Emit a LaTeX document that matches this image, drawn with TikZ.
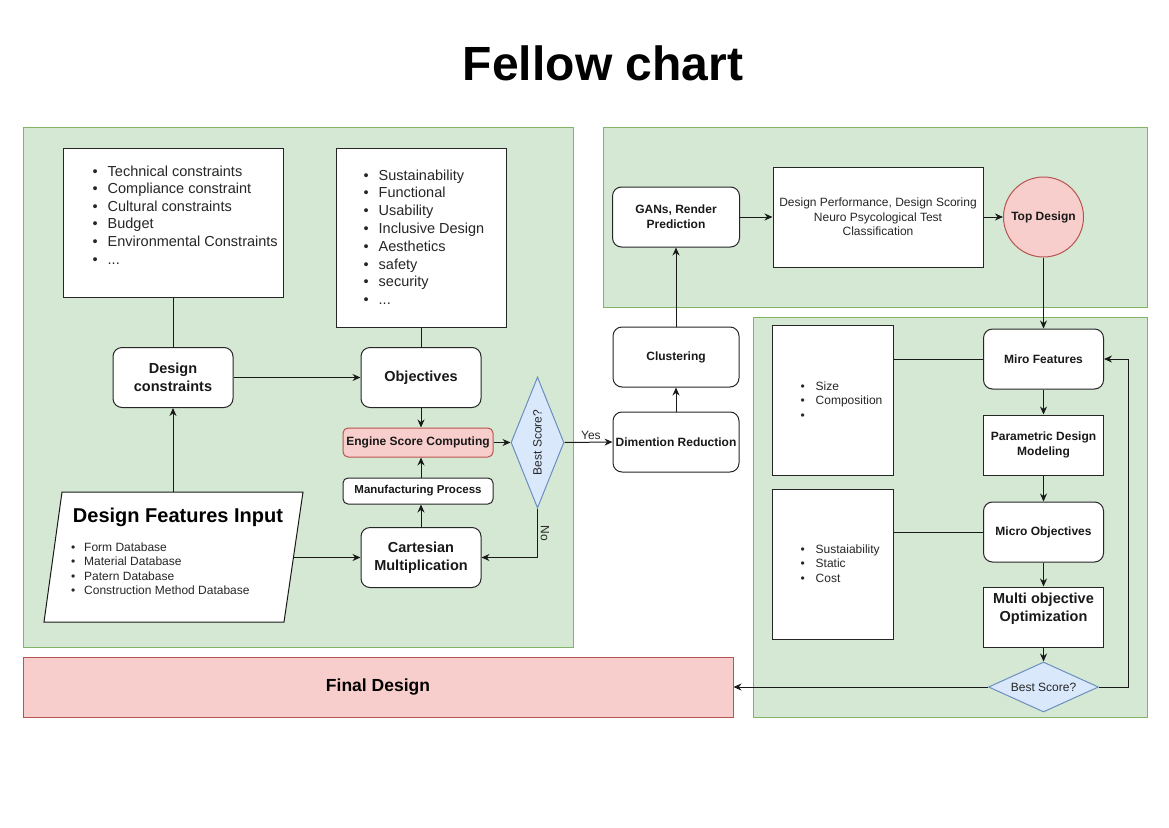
\documentclass[tikz,border=0pt]{standalone}
\usepackage{fontspec}
\setmainfont{Liberation Sans}
\usetikzlibrary{arrows.meta,shapes.geometric,calc}
\definecolor{gfill}{HTML}{D5E8D4}
\definecolor{gdraw}{HTML}{82B366}
\definecolor{rfill}{HTML}{F8CECC}
\definecolor{rdraw}{HTML}{B85450}
\definecolor{bfill}{HTML}{DAE8FC}
\definecolor{bdraw}{HTML}{6C8EBF}
\newcommand{\bulA}{\makebox[15pt][l]{\textbullet}}
\newcommand{\bulB}{\makebox[13pt][l]{\textbullet}}
\begin{document}
\begin{tikzpicture}[x=1pt,y=-1pt,
  panelg/.style={draw=gdraw, fill=gfill, line width=1pt, inner sep=0},
  rbox/.style={draw=black!85, fill=white, rounded corners=9pt, line width=1pt, align=center, inner sep=0},
  sqbox/.style={draw=black!85, fill=white, line width=1pt, align=center, inner sep=0},
  arr/.style={-{Stealth[length=8pt,width=7pt]}, line width=1pt, draw=black!90},
  conn/.style={line width=1pt, draw=black!90},
  lbl/.style={font=\fontsize{12}{15}\selectfont\bfseries, text=black!90},
  lblbig/.style={font=\fontsize{14.5}{18}\selectfont\bfseries, text=black!90},
  lst/.style={anchor=base west, inner sep=0, text=black!85},
]
\useasboundingbox (0,0) rectangle (1169,827);

% title
\node[font=\fontsize{48}{56}\selectfont\bfseries] (title) at (603,63) {Fellow chart};

% panels
\node[panelg, minimum width=550, minimum height=520] (pleft) at (298,387) {};
\node[panelg, minimum width=544, minimum height=180] (ptop) at (875,217) {};
\node[panelg, minimum width=394, minimum height=400] (pbot) at (950,517) {};
\node[draw=rdraw, fill=rfill, line width=1pt, minimum width=710, minimum height=60,
      font=\fontsize{17.5}{20}\selectfont\bfseries] (final) at (378,687) {Final Design};

% left panel
\node[sqbox, minimum width=220, minimum height=149] (clist) at (173,222.5) {};
\node[lst, font=\fontsize{14.5}{17.6}\selectfont] (clistt) at (92.5,176)
  {\vtop{\hbox{\bulA Technical constraints}\hbox{\bulA Compliance constraint}\hbox{\bulA Cultural constraints}\hbox{\bulA Budget}\hbox{\bulA Environmental Constraints}\hbox{\bulA ...}}};
\node[sqbox, minimum width=170, minimum height=179] (olist) at (421,237.5) {};
\node[lst, font=\fontsize{14.5}{17.8}\selectfont] (olistt) at (363.5,180)
  {\vtop{\hbox{\bulA Sustainability}\hbox{\bulA Functional}\hbox{\bulA Usability}\hbox{\bulA Inclusive Design}\hbox{\bulA Aesthetics}\hbox{\bulA safety}\hbox{\bulA security}\hbox{\bulA ...}}};

\node[rbox, lblbig, minimum width=120, minimum height=60] (dc) at (173,377.5) {Design\\constraints};
\node[rbox, lblbig, minimum width=120, minimum height=60] (obj) at (421,377.5) {Objectives};
\node[draw=rdraw, fill=rfill, rounded corners=5pt, line width=1pt, lbl, inner sep=0,
      minimum width=150, minimum height=29] (eng) at (418,442.5) {Engine Score Computing};
\node[rbox, lbl, rounded corners=5pt, font=\fontsize{11.5}{14}\selectfont\bfseries,
      minimum width=150, minimum height=26] (mp) at (418,491) {Manufacturing Process};
\node[rbox, lblbig, minimum width=120, minimum height=60] (cm) at (421,557.5) {Cartesian\\Multiplication};

% parallelogram
\draw[draw=black!90, fill=white, line width=1pt] (62,492) -- (303,492) -- (284,622) -- (44,622) -- cycle;
\coordinate (dfiT) at (173,492);
\coordinate (dfiR) at (293.5,557.5);
\node[font=\fontsize{20}{24}\selectfont\bfseries, text=black] (dfi) at (178,517) {Design Features Input};
\node[lst, font=\fontsize{12}{14.6}\selectfont] (dfil) at (71,551)
  {\vtop{\hbox{\bulB Form Database}\hbox{\bulB Material Database}\hbox{\bulB Patern Database}\hbox{\bulB Construction Method Database}}};

% decision 1
\node[diamond, draw=bdraw, fill=bfill, line width=1pt, inner sep=0, minimum width=53, minimum height=131] (d1) at (537.5,442.5) {};
\node[rotate=90, font=\fontsize{12}{14}\selectfont, text=black!85] (d1t) at (d1) {Best Score?};

% middle column
\node[rbox, lbl, minimum width=126, minimum height=60] (dim) at (676,442) {Dimention Reduction};
\node[rbox, lbl, minimum width=126, minimum height=60] (clu) at (676,357) {Clustering};
\node[rbox, lbl, minimum width=127, minimum height=60] (gan) at (676,217) {GANs, Render\\Prediction};

% top right
\node[sqbox, minimum width=210, minimum height=100, font=\fontsize{12}{14.3}\selectfont, text=black!85] (dp) at (878,217)
  {Design Performance, Design Scoring\\Neuro Psycological Test\\Classification};
\node[circle, draw=rdraw, fill=rfill, line width=1pt, minimum size=80, inner sep=0, lbl] (top) at (1043.5,217) {Top Design};

% bottom right
\node[sqbox, minimum width=120.5, minimum height=150] (size) at (833,400) {};
\node[lst, font=\fontsize{12}{14.5}\selectfont] (sizet) at (800.5,390)
  {\vtop{\hbox{\bulA Size}\hbox{\bulA Composition}\hbox{\bulA}}};
\node[sqbox, minimum width=120.5, minimum height=150] (sust) at (833,564) {};
\node[lst, font=\fontsize{12}{14.5}\selectfont] (sustt) at (800.5,553)
  {\vtop{\hbox{\bulA Sustaiability}\hbox{\bulA Static}\hbox{\bulA Cost}}};

\node[rbox, lbl, minimum width=120, minimum height=60] (miro) at (1043.5,359) {Miro Features};
\node[sqbox, lbl, minimum width=120, minimum height=60] (par) at (1043.5,445) {Parametric Design\\Modeling};
\node[rbox, lbl, minimum width=120, minimum height=60] (mic) at (1043.5,532) {Micro Objectives};
\node[sqbox, minimum width=120, minimum height=60] (mul) at (1043.5,617) {};
\node[lblbig, align=center, inner sep=0] (mult) at (1043.5,609) {Multi objective\\Optimization};
\node[diamond, draw=bdraw, fill=bfill, line width=1pt, inner sep=0, minimum width=110, minimum height=50] (d2) at (1043.5,687) {};
\node[font=\fontsize{12}{14}\selectfont, text=black!85] (d2t) at (d2) {Best Score?};

% connectors
\draw[conn] (clist.south) -- (dc.north);
\draw[conn] (olist.south) -- (obj.north);
\draw[arr] (dfiT) -- (dc.south);
\draw[arr] (dc.east) -- (obj.west);
\draw[arr] (obj.south) -- (obj.south |- eng.north);
\draw[arr] (cm.north) -- (cm.north |- mp.south);
\draw[arr] (cm.north |- mp.north) -- (cm.north |- eng.south);
\draw[arr] (dfiR) -- (cm.west);
\draw[arr] (eng.east) -- (d1.west);
\draw[arr] (d1.east) -- node[above, font=\fontsize{12}{14}\selectfont, text=black!85, pos=0.55, yshift=-1pt] (yes) {Yes} (dim.west);
\draw[arr] (d1.south) -- (d1.south |- cm.east) -- (cm.east);
\node[rotate=-90, font=\fontsize{12}{14}\selectfont, text=black!85] (no) at (545,533) {No};
\draw[arr] (dim.north) -- (clu.south);
\draw[arr] (clu.north) -- (gan.south);
\draw[arr] (gan.east) -- (dp.west);
\draw[arr] (dp.east) -- (top.west);
\draw[arr] (top.south) -- (miro.north);
\draw[conn] (size.east |- miro.west) -- (miro.west);
\draw[conn] (sust.east |- mic.west) -- (mic.west);
\draw[arr] (miro.south) -- (par.north);
\draw[arr] (par.south) -- (mic.north);
\draw[arr] (mic.south) -- (mul.north);
\draw[arr] (mul.south) -- (d2.north);
\draw[arr] (d2.east) -- ++(29,0) |- (miro.east);
\draw[arr] (d2.west) -- (final.east);
\end{tikzpicture}
\end{document}
